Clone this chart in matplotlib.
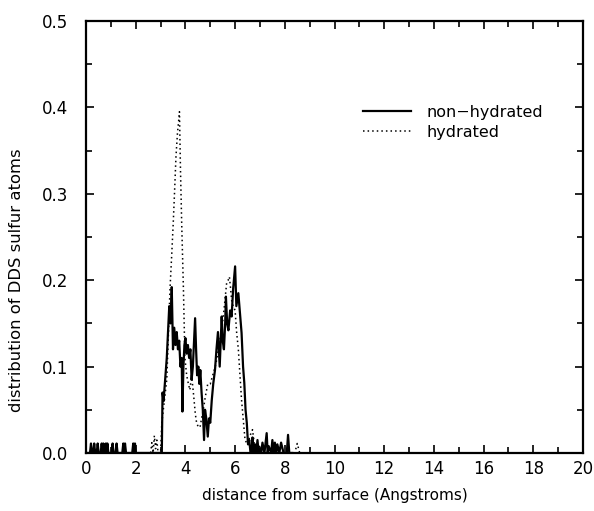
import matplotlib
matplotlib.use("Agg")
import matplotlib.pyplot as plt
from matplotlib.ticker import MultipleLocator

# non-hydrated (solid) distribution
dry_x = [0.0, 0.16, 0.2, 0.24, 0.29, 0.33, 0.37, 0.43, 0.47, 0.51, 0.59, 0.63,
         0.67, 0.7, 0.74, 0.78, 0.8, 0.83, 0.86, 0.9, 0.94, 1.03, 1.07, 1.11,
         1.19, 1.23, 1.27, 1.46, 1.5, 1.53, 1.57, 1.61, 1.86, 1.9, 1.94, 1.97,
         2.0, 2.04, 3.05, 3.08, 3.12, 3.16, 3.2, 3.25, 3.3, 3.35, 3.4, 3.45,
         3.5, 3.55, 3.6, 3.65, 3.7, 3.75, 3.8, 3.85, 3.88, 3.92, 3.96, 4.0,
         4.05, 4.1, 4.15, 4.2, 4.25, 4.3, 4.35, 4.39, 4.43, 4.47, 4.52, 4.56,
         4.6, 4.65, 4.7, 4.75, 4.79, 4.84, 4.9, 4.95, 5.0, 5.06, 5.12, 5.19,
         5.25, 5.31, 5.38, 5.46, 5.5, 5.55, 5.6, 5.63, 5.68, 5.73, 5.8, 5.86,
         5.92, 6.0, 6.05, 6.13, 6.2, 6.26, 6.32, 6.37, 6.42, 6.47, 6.52, 6.57,
         6.62, 6.66, 6.7, 6.74, 6.8, 6.85, 6.9, 6.95, 7.0, 7.05, 7.1, 7.18,
         7.27, 7.31, 7.35, 7.45, 7.5, 7.55, 7.6, 7.65, 7.7, 7.78, 7.85, 7.95,
         8.08, 8.13, 8.18, 8.3]
dry_y = [0.0, 0.0, 0.011, 0.0, 0.0, 0.011, 0.0, 0.0, 0.011, 0.0, 0.0, 0.011,
         0.0, 0.011, 0.0, 0.0, 0.011, 0.0, 0.011, 0.0, 0.0, 0.0, 0.011, 0.0,
         0.0, 0.011, 0.0, 0.0, 0.011, 0.0, 0.011, 0.0, 0.0, 0.011, 0.0, 0.011,
         0.0, 0.0, 0.0, 0.07, 0.06, 0.075, 0.09, 0.11, 0.14, 0.17, 0.15, 0.192,
         0.12, 0.145, 0.125, 0.14, 0.12, 0.13, 0.1, 0.11, 0.048, 0.1, 0.125, 0.133,
         0.115, 0.125, 0.11, 0.12, 0.085, 0.1, 0.13, 0.156, 0.12, 0.09, 0.1, 0.08,
         0.096, 0.07, 0.05, 0.015, 0.05, 0.04, 0.019, 0.04, 0.035, 0.061, 0.08, 0.096,
         0.12, 0.14, 0.1, 0.158, 0.13, 0.12, 0.15, 0.181, 0.15, 0.142, 0.165, 0.158,
         0.19, 0.216, 0.17, 0.185, 0.16, 0.139, 0.1, 0.081, 0.05, 0.035, 0.01, 0.015,
         0.0, 0.0, 0.018, 0.0, 0.01, 0.0, 0.015, 0.0, 0.005, 0.0, 0.012, 0.0,
         0.023, 0.0, 0.008, 0.0, 0.015, 0.0, 0.012, 0.0, 0.01, 0.0, 0.012, 0.0,
         0.0, 0.021, 0.0, 0.0]

# hydrated (dotted) distribution
wet_x = [2.6, 2.65, 2.7, 2.75, 2.8, 2.85, 2.9, 3.0, 3.05, 3.15, 3.25, 3.32,
         3.38, 3.45, 3.51, 3.56, 3.62, 3.68, 3.73, 3.76, 3.8, 3.85, 3.92, 3.98,
         4.05, 4.12, 4.18, 4.25, 4.32, 4.4, 4.45, 4.52, 4.59, 4.65, 4.72, 4.8,
         4.9, 5.0, 5.1, 5.2, 5.26, 5.35, 5.46, 5.55, 5.66, 5.72, 5.77, 5.82,
         5.86, 5.92, 6.0, 6.06, 6.13, 6.2, 6.26, 6.33, 6.4, 6.5, 6.6, 6.7,
         6.8, 6.95, 7.1, 7.5, 7.9, 8.4, 8.5, 8.6]
wet_y = [0.0, 0.012, 0.0, 0.02, 0.005, 0.015, 0.0, 0.0, 0.035, 0.06, 0.085, 0.14,
         0.19, 0.23, 0.266, 0.3, 0.343, 0.37, 0.385, 0.395, 0.33, 0.266, 0.19, 0.11,
         0.09, 0.08, 0.073, 0.09, 0.07, 0.045, 0.035, 0.03, 0.03, 0.04, 0.05, 0.065,
         0.08, 0.08, 0.09, 0.1, 0.108, 0.125, 0.142, 0.165, 0.197, 0.2, 0.204, 0.19,
         0.177, 0.17, 0.165, 0.14, 0.12, 0.088, 0.061, 0.038, 0.015, 0.01, 0.02, 0.027,
         0.005, 0.01, 0.0, 0.005, 0.0, 0.0, 0.011, 0.0]

plt.rcParams["font.family"] = "DejaVu Sans"

fig = plt.figure(figsize=(5.94, 5.11), dpi=100)
ax = fig.add_axes([0.1448, 0.1135, 0.8367, 0.8454])

ax.plot(dry_x, dry_y, color="black", linewidth=1.6, label="non\u2212hydrated")
ax.plot(wet_x, wet_y, color="black", linewidth=1.1, linestyle=(0, (1, 2)),
        label="hydrated")

ax.set_xlim(0, 20)
ax.set_ylim(0, 0.5)
ax.xaxis.set_major_locator(MultipleLocator(2))
ax.xaxis.set_minor_locator(MultipleLocator(1))
ax.yaxis.set_major_locator(MultipleLocator(0.1))
ax.yaxis.set_minor_locator(MultipleLocator(0.05))
ax.tick_params(which="both", direction="in", top=True, right=True,
               labelsize=12, width=1.2)
ax.tick_params(which="major", length=6)
ax.tick_params(axis="x", which="major", pad=5)
ax.tick_params(axis="y", which="major", pad=13)
ax.tick_params(which="minor", length=4)
for s in ax.spines.values():
    s.set_linewidth(1.6)

ax.set_xlabel("distance from surface (Angstroms)", fontsize=11, labelpad=7)
ax.set_ylabel("distribution of DDS sulfur atoms", fontsize=11.8)
# label sits a little below the middle of the axis in the original
ax.yaxis.set_label_coords(-0.125, 0.40)

ax.legend(loc="upper left", bbox_to_anchor=(0.557, 0.806), frameon=False,
          borderaxespad=0, borderpad=0, handlelength=3.0, handletextpad=1.0,
          labelspacing=0.3, fontsize=11.5)

fig.savefig("out.png", dpi=100)
